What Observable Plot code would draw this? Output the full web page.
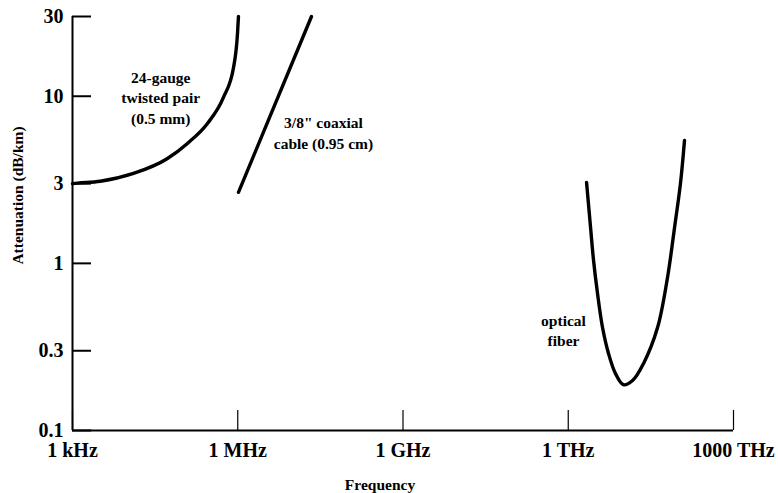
<!DOCTYPE html>
<html>
<head>
<meta charset="utf-8">
<script src="https://cdn.jsdelivr.net/npm/d3@7"></script>
<script src="https://cdn.jsdelivr.net/npm/@observablehq/plot@0.6"></script>
<style>
  html, body { margin: 0; padding: 0; background: #fff; }
</style>
</head>
<body>
<div id="chart"></div>
<script>
// ---- data ----
const xTicks = [1e3, 1e6, 1e9, 1e12, 1e15];
const xTickLabels = ["1 kHz", "1 MHz", "1 GHz", "1 THz", "1000 THz"];
const yTicks = [0.1, 0.3, 1, 3, 10, 30];
const yTickLabels = ["0.1", "0.3", "1", "3", "10", "30"];

// 24-gauge twisted pair
const tpFreq  = [1e3, 1.23e3, 3.2e3, 1.28e4, 5.3e4, 1.22e5, 2.82e5, 5.5e5, 8.4e5, 9.9e5, 1.03e6];
const tpAtten = [3.0, 3.02, 3.1, 3.45, 4.24, 5.22, 6.87, 9.84, 14.9, 23.8, 30];

// 3/8" coaxial cable
const coaxFreq  = [1.03e6, 2.18e7];
const coaxAtten = [2.66, 30];

// optical fiber
const fiberFreq  = [2.15e12, 2.54e12, 2.88e12, 3.4e12, 4.19e12, 5.38e12, 7.21e12, 1.0e13, 1.47e13, 2.33e13, 4.18e13, 6.34e13, 8.51e13, 1.09e14, 1.29e14];
const fiberAtten = [3.05, 1.64, 1.04, 0.66, 0.413, 0.289, 0.219, 0.188, 0.199, 0.252, 0.413, 0.824, 1.64, 3.01, 5.44];

// annotation labels (anchored in data units)
const labelTexts = ["24-gauge\ntwisted pair\n(0.5 mm)", "3/8\" coaxial\ncable (0.95 cm)", "optical\nfiber"];
const labelFreq  = [4e4, 3.6e7, 8.2e11];
const labelAtten = [9.9, 6.1, 0.4];

const xTitle = "Frequency";
const yTitle = "Attenuation (dB/km)";

// ---- build ----
const toRows = (fs, as) => fs.map((f, i) => ({f, a: as[i]}));
const tp = toRows(tpFreq, tpAtten);
const coax = toRows(coaxFreq, coaxAtten);
const fiber = toRows(fiberFreq, fiberAtten);
const labels = labelTexts.map((t, i) => ({t, f: labelFreq[i], a: labelAtten[i]}));
const xFmt = new Map(xTicks.map((d, i) => [d, xTickLabels[i]]));
const yFmt = new Map(yTicks.map((d, i) => [d, yTickLabels[i]]));

const W = 778, H = 493;
const mL = 72, mR = 45, mT = 16, mB = 63;
const frameW = W - mL - mR, frameH = H - mT - mB;

const serif = "'Liberation Serif', 'Times New Roman', serif";
const lineOpts = {x: "f", y: "a", stroke: "#000", strokeWidth: 3.4};

const chart = Plot.plot({
  width: W,
  height: H,
  marginLeft: mL,
  marginRight: mR,
  marginTop: mT,
  marginBottom: mB,
  style: {fontFamily: serif, fontWeight: "bold", fontSize: "20px", color: "#000", background: "#fff"},
  x: {type: "log", domain: [1e3, 1e15]},
  y: {type: "log", domain: [0.1, 30]},
  marks: [
    Plot.axisX({ticks: xTicks, tickFormat: d => xFmt.get(d), tickSize: 0, tickPadding: 12, label: null}),
    Plot.axisY({ticks: yTicks, tickFormat: d => yFmt.get(d), tickSize: 0, tickPadding: 9, label: null}),
    Plot.tickX(xTicks, {x: d => d, insetTop: frameH - 20, stroke: "#000", strokeWidth: 1.2}),
    Plot.tickY(yTicks, {y: d => d, insetRight: frameW - 19, stroke: "#000", strokeWidth: 2}),
    Plot.ruleY([0.1], {stroke: "#000", strokeWidth: 2}),
    Plot.ruleX([1e3], {stroke: "#000", strokeWidth: 2}),
    Plot.line(tp, {...lineOpts, curve: "monotone-x"}),
    Plot.line(coax, lineOpts),
    Plot.line(fiber, {...lineOpts, curve: "catmull-rom"}),
    Plot.text(labels, {x: "f", y: "a", text: "t", fontFamily: serif, fontSize: 15.5, fontWeight: "bold", lineHeight: 1.3, fill: "#000"}),
    Plot.text([xTitle], {text: d => d, frameAnchor: "bottom", textAnchor: "middle", lineAnchor: "middle", dy: 55, dx: -23, fontFamily: serif, fontSize: 15.5, fontWeight: "bold", fill: "#000"}),
    Plot.text([yTitle], {text: d => d, frameAnchor: "left", textAnchor: "middle", lineAnchor: "middle", rotate: -90, dx: -54, dy: -28, fontFamily: serif, fontSize: 15.5, fontWeight: "bold", fill: "#000"})
  ]
});
document.getElementById("chart").appendChild(chart);
</script>
</body>
</html>
